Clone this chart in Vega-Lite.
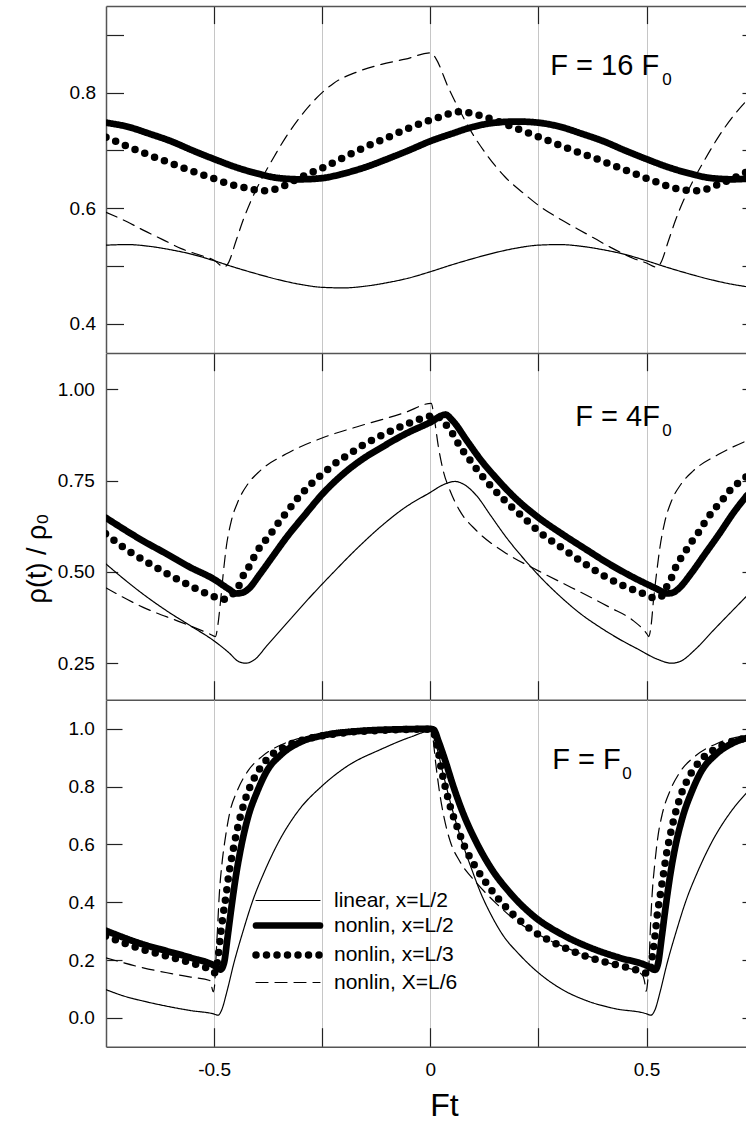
{
"$schema": "https://vega.github.io/schema/vega-lite/v6.json",
"padding": {"left": 23, "top": 5, "right": 0, "bottom": 0},
"config": {
  "view": {"stroke": null},
  "font": "Liberation Sans",
  "axis": {"labelFont": "Liberation Sans", "labelFontSize": 19, "labelColor": "black", "titleFont": "Liberation Sans", "titleColor": "black", "titleFontWeight": "normal", "domainColor": "#555", "domainWidth": 1.5, "tickColor": "#222", "tickWidth": 1.2, "gridColor": "#c6c6c6", "gridWidth": 1},
  "text": {"font": "Liberation Sans", "color": "black"}
},
"datasets": {
"one": [{}],
"curves": [
{"p":"t","s":"lin2","x":-0.75,"y":0.536},{"p":"t","s":"lin2","x":-0.70,"y":0.537},{"p":"t","s":"lin2","x":-0.65,"y":0.534},{"p":"t","s":"lin2","x":-0.60,"y":0.528},{"p":"t","s":"lin2","x":-0.55,"y":0.520},{"p":"t","s":"lin2","x":-0.50,"y":0.509},{"p":"t","s":"lin2","x":-0.45,"y":0.497},{"p":"t","s":"lin2","x":-0.40,"y":0.486},{"p":"t","s":"lin2","x":-0.35,"y":0.476},{"p":"t","s":"lin2","x":-0.30,"y":0.468},{"p":"t","s":"lin2","x":-0.25,"y":0.463},{"p":"t","s":"lin2","x":-0.20,"y":0.462},{"p":"t","s":"lin2","x":-0.15,"y":0.465},{"p":"t","s":"lin2","x":-0.10,"y":0.471},{"p":"t","s":"lin2","x":-0.05,"y":0.479},{"p":"t","s":"lin2","x":0.0,"y":0.490},{"p":"t","s":"lin2","x":0.05,"y":0.502},{"p":"t","s":"lin2","x":0.10,"y":0.513},{"p":"t","s":"lin2","x":0.15,"y":0.523},{"p":"t","s":"lin2","x":0.20,"y":0.531},{"p":"t","s":"lin2","x":0.25,"y":0.536},{"p":"t","s":"lin2","x":0.30,"y":0.537},{"p":"t","s":"lin2","x":0.35,"y":0.534},{"p":"t","s":"lin2","x":0.40,"y":0.528},{"p":"t","s":"lin2","x":0.45,"y":0.520},{"p":"t","s":"lin2","x":0.50,"y":0.509},{"p":"t","s":"lin2","x":0.55,"y":0.497},{"p":"t","s":"lin2","x":0.60,"y":0.486},{"p":"t","s":"lin2","x":0.65,"y":0.476},{"p":"t","s":"lin2","x":0.70,"y":0.468},{"p":"t","s":"lin2","x":0.7324,"y":0.464},
{"p":"t","s":"non6","x":-0.75,"y":0.593},{"p":"t","s":"non6","x":-0.70,"y":0.576},{"p":"t","s":"non6","x":-0.664,"y":0.562},{"p":"t","s":"non6","x":-0.62,"y":0.546},{"p":"t","s":"non6","x":-0.576,"y":0.530},{"p":"t","s":"non6","x":-0.53,"y":0.518},{"p":"t","s":"non6","x":-0.50,"y":0.510},{"p":"t","s":"non6","x":-0.477,"y":0.498},{"p":"t","s":"non6","x":-0.468,"y":0.504},{"p":"t","s":"non6","x":-0.449,"y":0.544},{"p":"t","s":"non6","x":-0.433,"y":0.579},{"p":"t","s":"non6","x":-0.414,"y":0.614},{"p":"t","s":"non6","x":-0.394,"y":0.645},{"p":"t","s":"non6","x":-0.366,"y":0.683},{"p":"t","s":"non6","x":-0.334,"y":0.723},{"p":"t","s":"non6","x":-0.301,"y":0.758},{"p":"t","s":"non6","x":-0.268,"y":0.787},{"p":"t","s":"non6","x":-0.224,"y":0.816},{"p":"t","s":"non6","x":-0.169,"y":0.836},{"p":"t","s":"non6","x":-0.113,"y":0.849},{"p":"t","s":"non6","x":-0.058,"y":0.858},{"p":"t","s":"non6","x":0.002,"y":0.869},{"p":"t","s":"non6","x":0.013,"y":0.859},{"p":"t","s":"non6","x":0.041,"y":0.810},{"p":"t","s":"non6","x":0.068,"y":0.769},{"p":"t","s":"non6","x":0.095,"y":0.732},{"p":"t","s":"non6","x":0.129,"y":0.694},{"p":"t","s":"non6","x":0.173,"y":0.654},{"p":"t","s":"non6","x":0.217,"y":0.625},{"p":"t","s":"non6","x":0.25,"y":0.605},{"p":"t","s":"non6","x":0.305,"y":0.579},{"p":"t","s":"non6","x":0.36,"y":0.556},{"p":"t","s":"non6","x":0.415,"y":0.533},{"p":"t","s":"non6","x":0.47,"y":0.513},{"p":"t","s":"non6","x":0.50,"y":0.505},{"p":"t","s":"non6","x":0.523,"y":0.498},{"p":"t","s":"non6","x":0.532,"y":0.504},{"p":"t","s":"non6","x":0.551,"y":0.544},{"p":"t","s":"non6","x":0.567,"y":0.579},{"p":"t","s":"non6","x":0.586,"y":0.614},{"p":"t","s":"non6","x":0.606,"y":0.645},{"p":"t","s":"non6","x":0.634,"y":0.683},{"p":"t","s":"non6","x":0.666,"y":0.723},{"p":"t","s":"non6","x":0.699,"y":0.758},{"p":"t","s":"non6","x":0.7324,"y":0.787},
{"p":"t","s":"non3","x":-0.75,"y":0.723},{"p":"t","s":"non3","x":-0.70,"y":0.707},{"p":"t","s":"non3","x":-0.654,"y":0.693},{"p":"t","s":"non3","x":-0.60,"y":0.678},{"p":"t","s":"non3","x":-0.558,"y":0.666},{"p":"t","s":"non3","x":-0.50,"y":0.651},{"p":"t","s":"non3","x":-0.461,"y":0.641},{"p":"t","s":"non3","x":-0.42,"y":0.634},{"p":"t","s":"non3","x":-0.389,"y":0.630},{"p":"t","s":"non3","x":-0.35,"y":0.635},{"p":"t","s":"non3","x":-0.317,"y":0.647},{"p":"t","s":"non3","x":-0.28,"y":0.660},{"p":"t","s":"non3","x":-0.246,"y":0.671},{"p":"t","s":"non3","x":-0.20,"y":0.688},{"p":"t","s":"non3","x":-0.15,"y":0.706},{"p":"t","s":"non3","x":-0.10,"y":0.722},{"p":"t","s":"non3","x":-0.052,"y":0.738},{"p":"t","s":"non3","x":0.019,"y":0.757},{"p":"t","s":"non3","x":0.066,"y":0.767},{"p":"t","s":"non3","x":0.112,"y":0.761},{"p":"t","s":"non3","x":0.15,"y":0.752},{"p":"t","s":"non3","x":0.186,"y":0.742},{"p":"t","s":"non3","x":0.235,"y":0.728},{"p":"t","s":"non3","x":0.283,"y":0.714},{"p":"t","s":"non3","x":0.33,"y":0.700},{"p":"t","s":"non3","x":0.379,"y":0.687},{"p":"t","s":"non3","x":0.43,"y":0.672},{"p":"t","s":"non3","x":0.475,"y":0.659},{"p":"t","s":"non3","x":0.52,"y":0.646},{"p":"t","s":"non3","x":0.569,"y":0.634},{"p":"t","s":"non3","x":0.619,"y":0.630},{"p":"t","s":"non3","x":0.666,"y":0.641},{"p":"t","s":"non3","x":0.713,"y":0.656},{"p":"t","s":"non3","x":0.7324,"y":0.663},
{"p":"t","s":"non2","x":-0.75,"y":0.748},{"p":"t","s":"non2","x":-0.70,"y":0.741},{"p":"t","s":"non2","x":-0.65,"y":0.729},{"p":"t","s":"non2","x":-0.60,"y":0.716},{"p":"t","s":"non2","x":-0.55,"y":0.700},{"p":"t","s":"non2","x":-0.50,"y":0.685},{"p":"t","s":"non2","x":-0.45,"y":0.671},{"p":"t","s":"non2","x":-0.40,"y":0.660},{"p":"t","s":"non2","x":-0.35,"y":0.652},{"p":"t","s":"non2","x":-0.30,"y":0.650},{"p":"t","s":"non2","x":-0.25,"y":0.652},{"p":"t","s":"non2","x":-0.20,"y":0.660},{"p":"t","s":"non2","x":-0.15,"y":0.671},{"p":"t","s":"non2","x":-0.10,"y":0.685},{"p":"t","s":"non2","x":-0.05,"y":0.700},{"p":"t","s":"non2","x":0.0,"y":0.716},{"p":"t","s":"non2","x":0.05,"y":0.729},{"p":"t","s":"non2","x":0.10,"y":0.741},{"p":"t","s":"non2","x":0.15,"y":0.748},{"p":"t","s":"non2","x":0.20,"y":0.750},{"p":"t","s":"non2","x":0.25,"y":0.748},{"p":"t","s":"non2","x":0.30,"y":0.741},{"p":"t","s":"non2","x":0.35,"y":0.729},{"p":"t","s":"non2","x":0.40,"y":0.716},{"p":"t","s":"non2","x":0.45,"y":0.700},{"p":"t","s":"non2","x":0.50,"y":0.685},{"p":"t","s":"non2","x":0.55,"y":0.671},{"p":"t","s":"non2","x":0.60,"y":0.660},{"p":"t","s":"non2","x":0.65,"y":0.652},{"p":"t","s":"non2","x":0.70,"y":0.650},{"p":"t","s":"non2","x":0.7324,"y":0.651},

{"p":"m","s":"lin2","x":-0.751,"y":0.523},{"p":"m","s":"lin2","x":-0.708,"y":0.480},{"p":"m","s":"lin2","x":-0.664,"y":0.439},{"p":"m","s":"lin2","x":-0.609,"y":0.393},{"p":"m","s":"lin2","x":-0.554,"y":0.352},{"p":"m","s":"lin2","x":-0.5,"y":0.311},{"p":"m","s":"lin2","x":-0.466,"y":0.279},{"p":"m","s":"lin2","x":-0.444,"y":0.255},{"p":"m","s":"lin2","x":-0.427,"y":0.250},{"p":"m","s":"lin2","x":-0.405,"y":0.261},{"p":"m","s":"lin2","x":-0.378,"y":0.298},{"p":"m","s":"lin2","x":-0.334,"y":0.357},{"p":"m","s":"lin2","x":-0.279,"y":0.430},{"p":"m","s":"lin2","x":-0.224,"y":0.499},{"p":"m","s":"lin2","x":-0.169,"y":0.565},{"p":"m","s":"lin2","x":-0.113,"y":0.626},{"p":"m","s":"lin2","x":-0.058,"y":0.677},{"p":"m","s":"lin2","x":0.0,"y":0.718},{"p":"m","s":"lin2","x":0.030,"y":0.739},{"p":"m","s":"lin2","x":0.057,"y":0.748},{"p":"m","s":"lin2","x":0.079,"y":0.739},{"p":"m","s":"lin2","x":0.107,"y":0.709},{"p":"m","s":"lin2","x":0.140,"y":0.654},{"p":"m","s":"lin2","x":0.173,"y":0.599},{"p":"m","s":"lin2","x":0.217,"y":0.535},{"p":"m","s":"lin2","x":0.261,"y":0.478},{"p":"m","s":"lin2","x":0.305,"y":0.428},{"p":"m","s":"lin2","x":0.349,"y":0.384},{"p":"m","s":"lin2","x":0.393,"y":0.348},{"p":"m","s":"lin2","x":0.437,"y":0.316},{"p":"m","s":"lin2","x":0.481,"y":0.288},{"p":"m","s":"lin2","x":0.525,"y":0.261},{"p":"m","s":"lin2","x":0.558,"y":0.250},{"p":"m","s":"lin2","x":0.580,"y":0.256},{"p":"m","s":"lin2","x":0.613,"y":0.288},{"p":"m","s":"lin2","x":0.657,"y":0.343},{"p":"m","s":"lin2","x":0.702,"y":0.398},{"p":"m","s":"lin2","x":0.7324,"y":0.435},
{"p":"m","s":"non6","x":-0.751,"y":0.457},{"p":"m","s":"non6","x":-0.664,"y":0.403},{"p":"m","s":"non6","x":-0.576,"y":0.362},{"p":"m","s":"non6","x":-0.51,"y":0.330},{"p":"m","s":"non6","x":-0.497,"y":0.323},{"p":"m","s":"non6","x":-0.491,"y":0.357},{"p":"m","s":"non6","x":-0.485,"y":0.421},{"p":"m","s":"non6","x":-0.479,"y":0.494},{"p":"m","s":"non6","x":-0.472,"y":0.567},{"p":"m","s":"non6","x":-0.461,"y":0.636},{"p":"m","s":"non6","x":-0.444,"y":0.695},{"p":"m","s":"non6","x":-0.422,"y":0.741},{"p":"m","s":"non6","x":-0.394,"y":0.777},{"p":"m","s":"non6","x":-0.334,"y":0.823},{"p":"m","s":"non6","x":-0.246,"y":0.869},{"p":"m","s":"non6","x":-0.169,"y":0.898},{"p":"m","s":"non6","x":-0.058,"y":0.937},{"p":"m","s":"non6","x":0.002,"y":0.962},{"p":"m","s":"non6","x":0.010,"y":0.914},{"p":"m","s":"non6","x":0.019,"y":0.841},{"p":"m","s":"non6","x":0.030,"y":0.777},{"p":"m","s":"non6","x":0.046,"y":0.722},{"p":"m","s":"non6","x":0.068,"y":0.668},{"p":"m","s":"non6","x":0.107,"y":0.613},{"p":"m","s":"non6","x":0.173,"y":0.553},{"p":"m","s":"non6","x":0.25,"y":0.503},{"p":"m","s":"non6","x":0.327,"y":0.457},{"p":"m","s":"non6","x":0.415,"y":0.403},{"p":"m","s":"non6","x":0.47,"y":0.366},{"p":"m","s":"non6","x":0.501,"y":0.330},{"p":"m","s":"non6","x":0.505,"y":0.323},{"p":"m","s":"non6","x":0.511,"y":0.357},{"p":"m","s":"non6","x":0.516,"y":0.421},{"p":"m","s":"non6","x":0.523,"y":0.494},{"p":"m","s":"non6","x":0.531,"y":0.567},{"p":"m","s":"non6","x":0.542,"y":0.636},{"p":"m","s":"non6","x":0.558,"y":0.695},{"p":"m","s":"non6","x":0.580,"y":0.741},{"p":"m","s":"non6","x":0.608,"y":0.777},{"p":"m","s":"non6","x":0.668,"y":0.823},{"p":"m","s":"non6","x":0.7324,"y":0.860},
{"p":"m","s":"non3","x":-0.751,"y":0.605},{"p":"m","s":"non3","x":-0.703,"y":0.562},{"p":"m","s":"non3","x":-0.654,"y":0.526},{"p":"m","s":"non3","x":-0.607,"y":0.494},{"p":"m","s":"non3","x":-0.558,"y":0.464},{"p":"m","s":"non3","x":-0.51,"y":0.437},{"p":"m","s":"non3","x":-0.477,"y":0.425},{"p":"m","s":"non3","x":-0.461,"y":0.435},{"p":"m","s":"non3","x":-0.444,"y":0.459},{"p":"m","s":"non3","x":-0.433,"y":0.489},{"p":"m","s":"non3","x":-0.416,"y":0.521},{"p":"m","s":"non3","x":-0.403,"y":0.552},{"p":"m","s":"non3","x":-0.385,"y":0.581},{"p":"m","s":"non3","x":-0.366,"y":0.610},{"p":"m","s":"non3","x":-0.348,"y":0.640},{"p":"m","s":"non3","x":-0.328,"y":0.670},{"p":"m","s":"non3","x":-0.309,"y":0.699},{"p":"m","s":"non3","x":-0.29,"y":0.724},{"p":"m","s":"non3","x":-0.268,"y":0.750},{"p":"m","s":"non3","x":-0.246,"y":0.772},{"p":"m","s":"non3","x":-0.224,"y":0.794},{"p":"m","s":"non3","x":-0.199,"y":0.814},{"p":"m","s":"non3","x":-0.152,"y":0.850},{"p":"m","s":"non3","x":-0.102,"y":0.880},{"p":"m","s":"non3","x":-0.055,"y":0.905},{"p":"m","s":"non3","x":-0.007,"y":0.925},{"p":"m","s":"non3","x":0.010,"y":0.929},{"p":"m","s":"non3","x":0.035,"y":0.905},{"p":"m","s":"non3","x":0.052,"y":0.878},{"p":"m","s":"non3","x":0.069,"y":0.843},{"p":"m","s":"non3","x":0.087,"y":0.814},{"p":"m","s":"non3","x":0.107,"y":0.782},{"p":"m","s":"non3","x":0.124,"y":0.757},{"p":"m","s":"non3","x":0.145,"y":0.729},{"p":"m","s":"non3","x":0.167,"y":0.702},{"p":"m","s":"non3","x":0.189,"y":0.677},{"p":"m","s":"non3","x":0.211,"y":0.654},{"p":"m","s":"non3","x":0.256,"y":0.606},{"p":"m","s":"non3","x":0.303,"y":0.567},{"p":"m","s":"non3","x":0.349,"y":0.529},{"p":"m","s":"non3","x":0.395,"y":0.494},{"p":"m","s":"non3","x":0.444,"y":0.464},{"p":"m","s":"non3","x":0.492,"y":0.441},{"p":"m","s":"non3","x":0.523,"y":0.428},{"p":"m","s":"non3","x":0.536,"y":0.435},{"p":"m","s":"non3","x":0.545,"y":0.456},{"p":"m","s":"non3","x":0.558,"y":0.485},{"p":"m","s":"non3","x":0.569,"y":0.517},{"p":"m","s":"non3","x":0.586,"y":0.549},{"p":"m","s":"non3","x":0.602,"y":0.579},{"p":"m","s":"non3","x":0.619,"y":0.606},{"p":"m","s":"non3","x":0.635,"y":0.636},{"p":"m","s":"non3","x":0.654,"y":0.668},{"p":"m","s":"non3","x":0.674,"y":0.695},{"p":"m","s":"non3","x":0.691,"y":0.721},{"p":"m","s":"non3","x":0.713,"y":0.745},{"p":"m","s":"non3","x":0.7324,"y":0.762},
{"p":"m","s":"non2","x":-0.751,"y":0.649},{"p":"m","s":"non2","x":-0.664,"y":0.585},{"p":"m","s":"non2","x":-0.609,"y":0.549},{"p":"m","s":"non2","x":-0.554,"y":0.512},{"p":"m","s":"non2","x":-0.5,"y":0.480},{"p":"m","s":"non2","x":-0.466,"y":0.453},{"p":"m","s":"non2","x":-0.449,"y":0.441},{"p":"m","s":"non2","x":-0.435,"y":0.443},{"p":"m","s":"non2","x":-0.421,"y":0.453},{"p":"m","s":"non2","x":-0.394,"y":0.494},{"p":"m","s":"non2","x":-0.366,"y":0.540},{"p":"m","s":"non2","x":-0.333,"y":0.594},{"p":"m","s":"non2","x":-0.289,"y":0.658},{"p":"m","s":"non2","x":-0.25,"y":0.713},{"p":"m","s":"non2","x":-0.202,"y":0.768},{"p":"m","s":"non2","x":-0.157,"y":0.809},{"p":"m","s":"non2","x":-0.113,"y":0.841},{"p":"m","s":"non2","x":-0.058,"y":0.878},{"p":"m","s":"non2","x":0.0,"y":0.910},{"p":"m","s":"non2","x":0.035,"y":0.931},{"p":"m","s":"non2","x":0.052,"y":0.914},{"p":"m","s":"non2","x":0.085,"y":0.859},{"p":"m","s":"non2","x":0.118,"y":0.805},{"p":"m","s":"non2","x":0.151,"y":0.759},{"p":"m","s":"non2","x":0.195,"y":0.704},{"p":"m","s":"non2","x":0.25,"y":0.649},{"p":"m","s":"non2","x":0.305,"y":0.604},{"p":"m","s":"non2","x":0.36,"y":0.562},{"p":"m","s":"non2","x":0.415,"y":0.521},{"p":"m","s":"non2","x":0.47,"y":0.485},{"p":"m","s":"non2","x":0.525,"y":0.453},{"p":"m","s":"non2","x":0.547,"y":0.441},{"p":"m","s":"non2","x":0.56,"y":0.443},{"p":"m","s":"non2","x":0.575,"y":0.455},{"p":"m","s":"non2","x":0.602,"y":0.494},{"p":"m","s":"non2","x":0.635,"y":0.549},{"p":"m","s":"non2","x":0.668,"y":0.604},{"p":"m","s":"non2","x":0.701,"y":0.662},{"p":"m","s":"non2","x":0.7324,"y":0.710},

{"p":"b","s":"lin2","x":-0.751,"y":0.098},{"p":"b","s":"lin2","x":-0.708,"y":0.075},{"p":"b","s":"lin2","x":-0.664,"y":0.058},{"p":"b","s":"lin2","x":-0.609,"y":0.040},{"p":"b","s":"lin2","x":-0.554,"y":0.025},{"p":"b","s":"lin2","x":-0.5,"y":0.013},{"p":"b","s":"lin2","x":-0.491,"y":0.009},{"p":"b","s":"lin2","x":-0.482,"y":0.029},{"p":"b","s":"lin2","x":-0.471,"y":0.087},{"p":"b","s":"lin2","x":-0.455,"y":0.185},{"p":"b","s":"lin2","x":-0.433,"y":0.300},{"p":"b","s":"lin2","x":-0.411,"y":0.404},{"p":"b","s":"lin2","x":-0.383,"y":0.508},{"p":"b","s":"lin2","x":-0.35,"y":0.611},{"p":"b","s":"lin2","x":-0.306,"y":0.715},{"p":"b","s":"lin2","x":-0.25,"y":0.803},{"p":"b","s":"lin2","x":-0.191,"y":0.872},{"p":"b","s":"lin2","x":-0.113,"y":0.930},{"p":"b","s":"lin2","x":-0.047,"y":0.971},{"p":"b","s":"lin2","x":0.0,"y":0.992},{"p":"b","s":"lin2","x":0.013,"y":0.946},{"p":"b","s":"lin2","x":0.030,"y":0.842},{"p":"b","s":"lin2","x":0.052,"y":0.715},{"p":"b","s":"lin2","x":0.074,"y":0.606},{"p":"b","s":"lin2","x":0.096,"y":0.513},{"p":"b","s":"lin2","x":0.118,"y":0.427},{"p":"b","s":"lin2","x":0.140,"y":0.358},{"p":"b","s":"lin2","x":0.167,"y":0.288},{"p":"b","s":"lin2","x":0.206,"y":0.219},{"p":"b","s":"lin2","x":0.25,"y":0.156},{"p":"b","s":"lin2","x":0.305,"y":0.098},{"p":"b","s":"lin2","x":0.36,"y":0.060},{"p":"b","s":"lin2","x":0.426,"y":0.032},{"p":"b","s":"lin2","x":0.5,"y":0.014},{"p":"b","s":"lin2","x":0.510,"y":0.009},{"p":"b","s":"lin2","x":0.520,"y":0.029},{"p":"b","s":"lin2","x":0.531,"y":0.087},{"p":"b","s":"lin2","x":0.547,"y":0.185},{"p":"b","s":"lin2","x":0.569,"y":0.300},{"p":"b","s":"lin2","x":0.591,"y":0.404},{"p":"b","s":"lin2","x":0.619,"y":0.508},{"p":"b","s":"lin2","x":0.652,"y":0.611},{"p":"b","s":"lin2","x":0.696,"y":0.715},{"p":"b","s":"lin2","x":0.7324,"y":0.780},
{"p":"b","s":"non6","x":-0.751,"y":0.208},{"p":"b","s":"non6","x":-0.664,"y":0.173},{"p":"b","s":"non6","x":-0.609,"y":0.156},{"p":"b","s":"non6","x":-0.554,"y":0.141},{"p":"b","s":"non6","x":-0.510,"y":0.129},{"p":"b","s":"non6","x":-0.506,"y":0.110},{"p":"b","s":"non6","x":-0.502,"y":0.090},{"p":"b","s":"non6","x":-0.499,"y":0.110},{"p":"b","s":"non6","x":-0.496,"y":0.196},{"p":"b","s":"non6","x":-0.492,"y":0.311},{"p":"b","s":"non6","x":-0.488,"y":0.427},{"p":"b","s":"non6","x":-0.482,"y":0.531},{"p":"b","s":"non6","x":-0.474,"y":0.623},{"p":"b","s":"non6","x":-0.464,"y":0.709},{"p":"b","s":"non6","x":-0.447,"y":0.784},{"p":"b","s":"non6","x":-0.422,"y":0.854},{"p":"b","s":"non6","x":-0.389,"y":0.905},{"p":"b","s":"non6","x":-0.334,"y":0.952},{"p":"b","s":"non6","x":-0.268,"y":0.978},{"p":"b","s":"non6","x":-0.169,"y":0.994},{"p":"b","s":"non6","x":0.0,"y":1.0},{"p":"b","s":"non6","x":0.006,"y":0.969},{"p":"b","s":"non6","x":0.012,"y":0.888},{"p":"b","s":"non6","x":0.021,"y":0.784},{"p":"b","s":"non6","x":0.032,"y":0.692},{"p":"b","s":"non6","x":0.046,"y":0.611},{"p":"b","s":"non6","x":0.068,"y":0.542},{"p":"b","s":"non6","x":0.107,"y":0.467},{"p":"b","s":"non6","x":0.151,"y":0.398},{"p":"b","s":"non6","x":0.195,"y":0.340},{"p":"b","s":"non6","x":0.25,"y":0.288},{"p":"b","s":"non6","x":0.305,"y":0.248},{"p":"b","s":"non6","x":0.371,"y":0.210},{"p":"b","s":"non6","x":0.437,"y":0.179},{"p":"b","s":"non6","x":0.481,"y":0.159},{"p":"b","s":"non6","x":0.492,"y":0.144},{"p":"b","s":"non6","x":0.496,"y":0.121},{"p":"b","s":"non6","x":0.499,"y":0.092},{"p":"b","s":"non6","x":0.502,"y":0.115},{"p":"b","s":"non6","x":0.506,"y":0.196},{"p":"b","s":"non6","x":0.509,"y":0.311},{"p":"b","s":"non6","x":0.513,"y":0.427},{"p":"b","s":"non6","x":0.519,"y":0.531},{"p":"b","s":"non6","x":0.526,"y":0.623},{"p":"b","s":"non6","x":0.537,"y":0.709},{"p":"b","s":"non6","x":0.554,"y":0.784},{"p":"b","s":"non6","x":0.579,"y":0.854},{"p":"b","s":"non6","x":0.612,"y":0.905},{"p":"b","s":"non6","x":0.667,"y":0.952},{"p":"b","s":"non6","x":0.7324,"y":0.978},
{"p":"b","s":"non3","x":-0.751,"y":0.283},{"p":"b","s":"non3","x":-0.664,"y":0.236},{"p":"b","s":"non3","x":-0.609,"y":0.213},{"p":"b","s":"non3","x":-0.554,"y":0.190},{"p":"b","s":"non3","x":-0.510,"y":0.167},{"p":"b","s":"non3","x":-0.499,"y":0.156},{"p":"b","s":"non3","x":-0.490,"y":0.219},{"p":"b","s":"non3","x":-0.485,"y":0.288},{"p":"b","s":"non3","x":-0.479,"y":0.358},{"p":"b","s":"non3","x":-0.472,"y":0.427},{"p":"b","s":"non3","x":-0.466,"y":0.496},{"p":"b","s":"non3","x":-0.458,"y":0.565},{"p":"b","s":"non3","x":-0.449,"y":0.634},{"p":"b","s":"non3","x":-0.438,"y":0.704},{"p":"b","s":"non3","x":-0.424,"y":0.773},{"p":"b","s":"non3","x":-0.405,"y":0.836},{"p":"b","s":"non3","x":-0.378,"y":0.894},{"p":"b","s":"non3","x":-0.334,"y":0.940},{"p":"b","s":"non3","x":-0.279,"y":0.967},{"p":"b","s":"non3","x":-0.202,"y":0.986},{"p":"b","s":"non3","x":-0.113,"y":0.995},{"p":"b","s":"non3","x":0.0,"y":0.999},{"p":"b","s":"non3","x":0.008,"y":0.986},{"p":"b","s":"non3","x":0.017,"y":0.934},{"p":"b","s":"non3","x":0.025,"y":0.865},{"p":"b","s":"non3","x":0.035,"y":0.796},{"p":"b","s":"non3","x":0.047,"y":0.727},{"p":"b","s":"non3","x":0.063,"y":0.657},{"p":"b","s":"non3","x":0.079,"y":0.594},{"p":"b","s":"non3","x":0.101,"y":0.531},{"p":"b","s":"non3","x":0.129,"y":0.467},{"p":"b","s":"non3","x":0.162,"y":0.404},{"p":"b","s":"non3","x":0.200,"y":0.346},{"p":"b","s":"non3","x":0.244,"y":0.294},{"p":"b","s":"non3","x":0.294,"y":0.254},{"p":"b","s":"non3","x":0.349,"y":0.219},{"p":"b","s":"non3","x":0.404,"y":0.193},{"p":"b","s":"non3","x":0.459,"y":0.173},{"p":"b","s":"non3","x":0.492,"y":0.159},{"p":"b","s":"non3","x":0.506,"y":0.152},{"p":"b","s":"non3","x":0.514,"y":0.219},{"p":"b","s":"non3","x":0.520,"y":0.288},{"p":"b","s":"non3","x":0.525,"y":0.358},{"p":"b","s":"non3","x":0.532,"y":0.427},{"p":"b","s":"non3","x":0.539,"y":0.496},{"p":"b","s":"non3","x":0.546,"y":0.565},{"p":"b","s":"non3","x":0.555,"y":0.634},{"p":"b","s":"non3","x":0.566,"y":0.704},{"p":"b","s":"non3","x":0.580,"y":0.773},{"p":"b","s":"non3","x":0.599,"y":0.836},{"p":"b","s":"non3","x":0.627,"y":0.894},{"p":"b","s":"non3","x":0.671,"y":0.940},{"p":"b","s":"non3","x":0.7324,"y":0.969},
{"p":"b","s":"non2","x":-0.751,"y":0.302},{"p":"b","s":"non2","x":-0.664,"y":0.254},{"p":"b","s":"non2","x":-0.609,"y":0.231},{"p":"b","s":"non2","x":-0.554,"y":0.208},{"p":"b","s":"non2","x":-0.5,"y":0.181},{"p":"b","s":"non2","x":-0.485,"y":0.167},{"p":"b","s":"non2","x":-0.477,"y":0.190},{"p":"b","s":"non2","x":-0.469,"y":0.277},{"p":"b","s":"non2","x":-0.460,"y":0.381},{"p":"b","s":"non2","x":-0.449,"y":0.496},{"p":"b","s":"non2","x":-0.438,"y":0.588},{"p":"b","s":"non2","x":-0.422,"y":0.692},{"p":"b","s":"non2","x":-0.400,"y":0.784},{"p":"b","s":"non2","x":-0.378,"y":0.854},{"p":"b","s":"non2","x":-0.345,"y":0.911},{"p":"b","s":"non2","x":-0.301,"y":0.954},{"p":"b","s":"non2","x":-0.246,"y":0.978},{"p":"b","s":"non2","x":-0.169,"y":0.992},{"p":"b","s":"non2","x":-0.058,"y":0.999},{"p":"b","s":"non2","x":0.0,"y":1.0},{"p":"b","s":"non2","x":0.008,"y":0.997},{"p":"b","s":"non2","x":0.019,"y":0.957},{"p":"b","s":"non2","x":0.035,"y":0.888},{"p":"b","s":"non2","x":0.052,"y":0.807},{"p":"b","s":"non2","x":0.074,"y":0.715},{"p":"b","s":"non2","x":0.107,"y":0.606},{"p":"b","s":"non2","x":0.140,"y":0.519},{"p":"b","s":"non2","x":0.184,"y":0.433},{"p":"b","s":"non2","x":0.239,"y":0.352},{"p":"b","s":"non2","x":0.305,"y":0.288},{"p":"b","s":"non2","x":0.371,"y":0.242},{"p":"b","s":"non2","x":0.437,"y":0.208},{"p":"b","s":"non2","x":0.5,"y":0.181},{"p":"b","s":"non2","x":0.520,"y":0.166},{"p":"b","s":"non2","x":0.527,"y":0.190},{"p":"b","s":"non2","x":0.535,"y":0.277},{"p":"b","s":"non2","x":0.544,"y":0.381},{"p":"b","s":"non2","x":0.555,"y":0.496},{"p":"b","s":"non2","x":0.566,"y":0.588},{"p":"b","s":"non2","x":0.583,"y":0.692},{"p":"b","s":"non2","x":0.605,"y":0.784},{"p":"b","s":"non2","x":0.627,"y":0.854},{"p":"b","s":"non2","x":0.660,"y":0.911},{"p":"b","s":"non2","x":0.704,"y":0.954},{"p":"b","s":"non2","x":0.7324,"y":0.969}
]
},
"vconcat": [
{
  "width": 641, "height": 346.6,
  "layer": [
    {
      "data": {"name": "curves"},
      "transform": [{"filter": "datum.p == 't'"}],
      "mark": {"type": "line", "color": "black", "strokeCap": "round", "strokeJoin": "round", "interpolate": "monotone", "clip": true},
      "encoding": {
        "x": {"field": "x", "type": "quantitative", "scale": {"domain": [-0.75, 0.7324], "nice": false, "zero": false},
              "axis": {"orient": "top", "values": [-0.5, -0.25, 0, 0.25, 0.5], "labels": false, "title": null, "tickSize": -17.6, "grid": true}},
        "y": {"field": "y", "type": "quantitative", "scale": {"domain": [0.35, 0.95], "nice": false, "zero": false},
              "axis": {"orient": "left", "values": [0.4, 0.5, 0.6, 0.7, 0.8, 0.9], "labelExpr": "round(datum.value*10)%2==0 ? format(datum.value,'.1f') : ''", "tickSize": -17.5, "labelPadding": 28, "title": null, "grid": false,
                       "encode": {"ticks": {"update": {"x": {"signal": "round(datum.value*10)%2==0 ? -5 : 0"}, "x2": {"signal": "round(datum.value*10)%2==0 ? 17.5 : 10.5"}}}}}},
        "strokeDash": {"field": "s", "type": "nominal", "scale": {"domain": ["lin2", "non2", "non3", "non6"], "range": [[1, 0], [1, 0], [0, 10.5], [12, 7]]}, "legend": null},
        "strokeWidth": {"field": "s", "type": "nominal", "scale": {"type": "ordinal", "domain": ["lin2", "non2", "non3", "non6"], "range": [1.2, 6.7, 7.5, 1.2]}, "legend": null}
      }
    },
    {
      "data": {"name": "one"},
      "mark": {"type": "text", "text": "F = 16 F", "fontSize": 29, "align": "left", "baseline": "alphabetic"},
      "encoding": {
        "x": {"datum": 0.2775, "type": "quantitative", "scale": {"domain": [-0.75, 0.7324], "nice": false, "zero": false}, "axis": null},
        "y": {"datum": 0.830, "type": "quantitative", "scale": {"domain": [0.35, 0.95], "nice": false, "zero": false},
              "axis": {"orient": "right", "values": [0.4, 0.5, 0.6, 0.7, 0.8, 0.9], "labels": false, "domain": false, "grid": false, "title": null, "tickSize": -5}}
      }
    },
    {
      "data": {"name": "one"},
      "mark": {"type": "text", "text": "0", "fontSize": 17, "align": "left", "baseline": "alphabetic"},
      "encoding": {
        "x": {"datum": 0.5365, "type": "quantitative", "scale": {"domain": [-0.75, 0.7324], "nice": false, "zero": false}, "axis": null},
        "y": {"datum": 0.813, "type": "quantitative", "scale": {"domain": [0.35, 0.95], "nice": false, "zero": false}, "axis": null}
      }
    }
  ],
  "resolve": {"axis": {"x": "independent", "y": "independent"}}
},
{
  "width": 641, "height": 346.7,
  "layer": [
    {
      "data": {"name": "curves"},
      "transform": [{"filter": "datum.p == 'm'"}],
      "mark": {"type": "line", "color": "black", "strokeCap": "round", "strokeJoin": "round", "interpolate": "monotone", "clip": true},
      "encoding": {
        "x": {"field": "x", "type": "quantitative", "scale": {"domain": [-0.75, 0.7324], "nice": false, "zero": false},
              "axis": {"orient": "top", "values": [-0.5, -0.25, 0, 0.25, 0.5], "labels": false, "title": null, "tickSize": -17.7, "grid": true}},
        "y": {"field": "y", "type": "quantitative", "scale": {"domain": [0.15, 1.10], "nice": false, "zero": false},
              "axis": {"orient": "left", "values": [0.25, 0.5, 0.75, 1.0], "format": ".2f", "tickSize": -11.7, "labelPadding": 23.4, "grid": false,
                       "title": "ρ(t) / ρ₀", "titleFontSize": 27, "titleX": -69, "titleY": 205, "titleAngle": 270, "titleAlign": "center", "titleBaseline": "middle"}},
        "strokeDash": {"field": "s", "type": "nominal", "scale": {"domain": ["lin2", "non2", "non3", "non6"], "range": [[1, 0], [1, 0], [0, 10.5], [12, 7]]}, "legend": null},
        "strokeWidth": {"field": "s", "type": "nominal", "scale": {"type": "ordinal", "domain": ["lin2", "non2", "non3", "non6"], "range": [1.2, 6.7, 7.5, 1.2]}, "legend": null}
      }
    },
    {
      "data": {"name": "one"},
      "mark": {"type": "text", "text": "F = 4F", "fontSize": 29, "align": "left", "baseline": "alphabetic"},
      "encoding": {
        "x": {"datum": 0.3353, "type": "quantitative", "scale": {"domain": [-0.75, 0.7324], "nice": false, "zero": false},
              "axis": {"orient": "bottom", "values": [-0.5, -0.25, 0, 0.25, 0.5], "labels": false, "title": null, "tickSize": -19, "grid": false}},
        "y": {"datum": 0.901, "type": "quantitative", "scale": {"domain": [0.15, 1.10], "nice": false, "zero": false},
              "axis": {"orient": "right", "values": [0.25, 0.5, 0.75, 1.0], "labels": false, "domain": false, "grid": false, "title": null, "tickSize": -5}}
      }
    },
    {
      "data": {"name": "one"},
      "mark": {"type": "text", "text": "0", "fontSize": 17, "align": "left", "baseline": "alphabetic"},
      "encoding": {
        "x": {"datum": 0.5365, "type": "quantitative", "scale": {"domain": [-0.75, 0.7324], "nice": false, "zero": false}, "axis": null},
        "y": {"datum": 0.873, "type": "quantitative", "scale": {"domain": [0.15, 1.10], "nice": false, "zero": false}, "axis": null}
      }
    }
  ],
  "resolve": {"axis": {"x": "independent", "y": "independent"}}
},
{
  "width": 641, "height": 346.7,
  "layer": [
    {
      "data": {"name": "curves"},
      "transform": [{"filter": "datum.p == 'b'"}],
      "mark": {"type": "line", "color": "black", "strokeCap": "round", "strokeJoin": "round", "interpolate": "monotone", "clip": true},
      "encoding": {
        "x": {"field": "x", "type": "quantitative", "scale": {"domain": [-0.75, 0.7324], "nice": false, "zero": false},
              "axis": {"orient": "bottom", "values": [-0.5, -0.25, 0, 0.25, 0.5], "labelExpr": "datum.value == -0.5 ? '-0.5' : datum.value == 0 ? '0' : datum.value == 0.5 ? '0.5' : ''", "tickSize": -19, "labelPadding": 33, "grid": true,
                       "title": "Ft", "titleFontSize": 32, "titleX": 338, "titleY": 69, "titleAlign": "center", "titleBaseline": "alphabetic",
                       "encode": {"labels": {"update": {"dy": {"signal": "datum.value == -0.5 ? 8 : datum.value == 0 ? 0 : 3"}}}}}},
        "y": {"field": "y", "type": "quantitative", "scale": {"domain": [-0.1, 1.1], "nice": false, "zero": false},
              "axis": {"orient": "left", "values": [0, 0.2, 0.4, 0.6, 0.8, 1.0], "format": ".1f", "tickSize": -16, "labelPadding": 27.7, "grid": false, "title": null}},
        "strokeDash": {"field": "s", "type": "nominal", "scale": {"domain": ["lin2", "non2", "non3", "non6"], "range": [[1, 0], [1, 0], [0, 10.5], [12, 7]]},
              "legend": {"orient": "none", "legendX": 170, "legendY": 190, "title": null, "symbolType": "M-4,0H4", "symbolSize": 256, "labelFontSize": 21, "labelFont": "Liberation Sans", "labelColor": "black", "labelOffset": 34, "rowPadding": 1, "padding": 0, "symbolStrokeColor": "black",
                         "labelExpr": "datum.label == 'lin2' ? 'linear, x=L/2' : datum.label == 'non2' ? 'nonlin, x=L/2' : datum.label == 'non3' ? 'nonlin, x=L/3' : 'nonlin, X=L/6'",
                         "encode": {"symbols": {"update": {"strokeCap": {"value": "round"}}}}}},
        "strokeWidth": {"field": "s", "type": "nominal", "scale": {"type": "ordinal", "domain": ["lin2", "non2", "non3", "non6"], "range": [1.2, 6.7, 7.5, 1.2]},
              "legend": {"orient": "none", "legendX": 170, "legendY": 190, "title": null, "symbolType": "M-4,0H4", "symbolSize": 256, "labelFontSize": 21, "labelFont": "Liberation Sans", "labelColor": "black", "labelOffset": 34, "rowPadding": 1, "padding": 0, "symbolStrokeColor": "black",
                         "labelExpr": "datum.label == 'lin2' ? 'linear, x=L/2' : datum.label == 'non2' ? 'nonlin, x=L/2' : datum.label == 'non3' ? 'nonlin, x=L/3' : 'nonlin, X=L/6'",
                         "encode": {"symbols": {"update": {"strokeCap": {"value": "round"}}}}}}
      }
    },
    {
      "data": {"name": "one"},
      "mark": {"type": "text", "text": "F = F", "fontSize": 29, "align": "left", "baseline": "alphabetic"},
      "encoding": {
        "x": {"datum": 0.282, "type": "quantitative", "scale": {"domain": [-0.75, 0.7324], "nice": false, "zero": false}, "axis": null},
        "y": {"datum": 0.860, "type": "quantitative", "scale": {"domain": [-0.1, 1.1], "nice": false, "zero": false},
              "axis": {"orient": "right", "values": [0, 0.2, 0.4, 0.6, 0.8, 1.0], "labels": false, "domain": false, "grid": false, "title": null, "tickSize": -5}}
      }
    },
    {
      "data": {"name": "one"},
      "mark": {"type": "text", "text": "0", "fontSize": 17, "align": "left", "baseline": "alphabetic"},
      "encoding": {
        "x": {"datum": 0.444, "type": "quantitative", "scale": {"domain": [-0.75, 0.7324], "nice": false, "zero": false}, "axis": null},
        "y": {"datum": 0.825, "type": "quantitative", "scale": {"domain": [-0.1, 1.1], "nice": false, "zero": false}, "axis": null}
      }
    }
  ],
  "resolve": {"axis": {"x": "independent", "y": "independent"}}
}
],
"spacing": 0,
"bounds": "flush",
"resolve": {"scale": {"x": "independent", "y": "independent", "strokeDash": "independent", "strokeWidth": "independent"}}
}
